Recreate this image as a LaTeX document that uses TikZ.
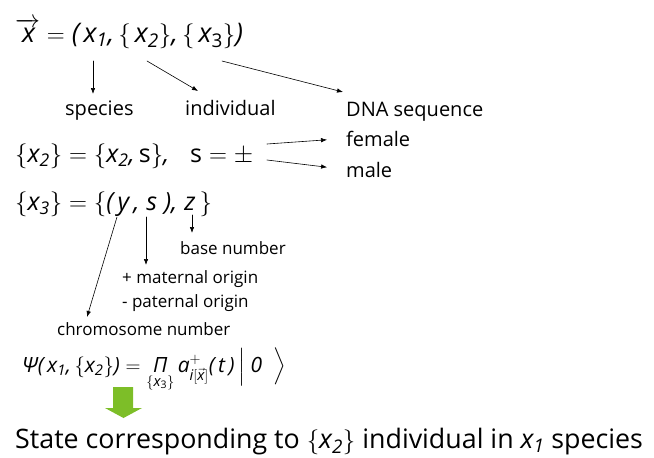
\documentclass[tikz,border=0pt]{standalone}
\usepackage{amsmath}
\usepackage{fontspec}
\setmainfont{Open Sans}
\usetikzlibrary{arrows.meta}
\newcommand{\mx}[1]{\textit{#1}}
\definecolor{verde}{RGB}{125,190,40}
\begin{document}
\begin{tikzpicture}[x=1pt, y=-1pt, line cap=round, line join=round,
  arr/.style={-{Latex[length=6pt,width=4.5pt]}, line width=0.6pt},
  lbl/.style={anchor=base west, inner sep=0pt, font=\fontsize{20}{24}\selectfont},
  sublbl/.style={anchor=base west, inner sep=0pt, font=\fontsize{17}{20}\selectfont},
  eq/.style={anchor=base west, inner sep=0pt, font=\fontsize{27}{30}\selectfont}]

\useasboundingbox (0,0) rectangle (654,458);

% Vettore x
\node[eq] (vx) at (15,42) {$\overrightarrow{\mx{x}\kern-2pt} = \mx{(}\,\mx{x}_{\mx{1}}\mx{,}\,\{\,\mx{x}_{\mx{2}}\}\mx{,}\,\{\,\mx{x}_{\text{3}}\}\mx{)}$};
\coordinate (cx1) at (93,61);
\coordinate (cx2) at (147,61);
\coordinate (cx3) at (222,61);
\coordinate (tx2) at (198,91);
\coordinate (tx3) at (343,92);

% Etichette
\node[lbl] (species) at (65,115) {species};
\node[lbl] (individual) at (185,115) {individual};
\node[lbl] (dna) at (346,116) {DNA sequence};
\node[lbl] (female) at (346,146) {female};
\node[lbl] (male) at (346,177) {male};

\draw[arr] (cx1) -- (93,94);
\draw[arr] (cx2) -- (tx2);
\draw[arr] (cx3) -- (tx3);

% Sesso
\node[eq, font=\fontsize{25}{30}\selectfont] (eqx2) at (15,162) {$\{\mx{x}_{\mx{2}}\} = \{\mx{x}_{\mx{2}}\mx{,}\,\text{s}\}\mx{,}\;\;\; \text{s} = \pm$};
\coordinate (cs1) at (267,144);
\coordinate (cs2) at (267,160);
\draw[arr, shorten >=19pt] (cs1) -- (female.west);
\draw[arr, shorten >=19pt] (cs2) -- (male.west);

% Cromosomi
\node[eq, font=\fontsize{25}{30}\selectfont] (eqx3) at (15,210) {$\{\mx{x}_{\mx{3}}\} = \{\mx{(}\,\mx{y}\,\mx{,}\;\mx{s}\;\mx{)}\mx{,}\;\mx{z}\,\}$};
\coordinate (cy) at (117,217);
\coordinate (cs) at (146,217);
\coordinate (cz) at (192,215);

\node[sublbl] (base) at (180,254) {base number};
\node[sublbl] (mat) at (122,283) {+ maternal origin};
\node[sublbl] (pat) at (122,307) {- paternal origin};
\node[sublbl] (chrom) at (57,335) {chromosome number};

\draw[arr] (cz) -- (192,233);
\draw[arr] (cs) -- (146,265);
\draw[arr] (cy) -- (87,317);

% Stato
\node[eq, font=\fontsize{21}{24}\selectfont] (psi) at (22,372) {$\mx{Ψ}\mx{(}\,\mx{x}_{\mx{1}}\mx{,}\,\{\mx{x}_{\mx{2}}\}\mx{)} = \mathop{\mx{Π}}\limits_{\{\mx{x}_{\text{3}}\}} \mx{a}^{+}_{\mx{i}[\vec{\mx{x}}]}\mx{(}\,\mx{t}\,\mx{)}\,\Big|\;\mx{0}\;\;\Big\rangle$};

\fill[verde] (113,387) -- (133,387) -- (133,408) -- (142,408) -- (123.5,418) -- (105,408) -- (113,408) -- cycle;

\node[anchor=base west, inner sep=0pt, font=\fontsize{26.8}{30}\selectfont] (state) at (15,448) {State corresponding to $\{\mx{x}_{\mx{2}}\}$ individual in $\mx{x}_{\mx{1}}$ species};

\end{tikzpicture}
\end{document}
